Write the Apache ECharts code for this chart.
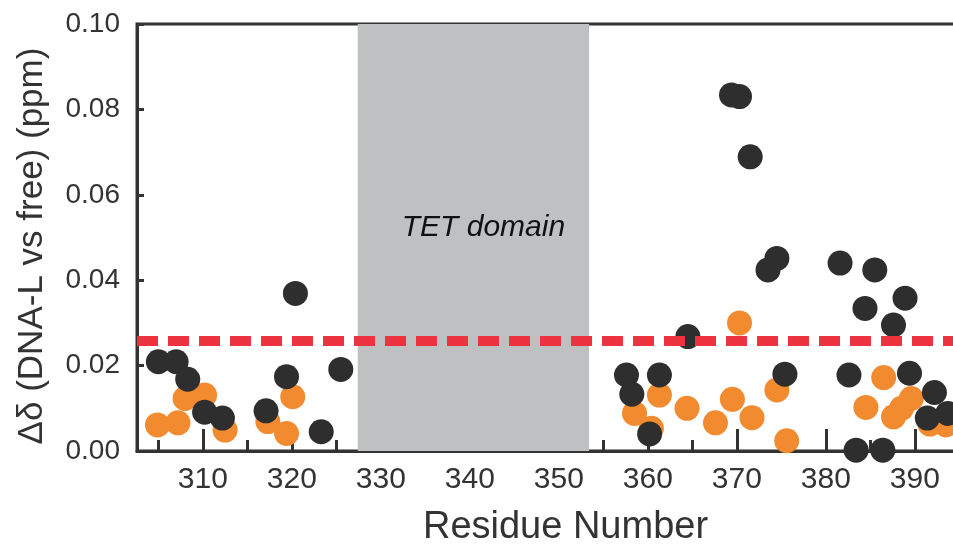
<!DOCTYPE html>
<html><head><meta charset="utf-8">
<script src="https://cdn.jsdelivr.net/npm/echarts@6/dist/echarts.min.js"></script>
<style>html,body{margin:0;padding:0;background:#fff}#c{width:953px;height:548px}</style>
</head><body><div id="c"></div>
<script>
// Data
const blackResidue = [305, 307, 308.3, 310.2, 312.2, 317.1, 319.4, 320.4, 323.3, 325.5,
  357.6, 358.2, 360.2, 361.3, 364.5, 369.4, 370.3, 371.5, 373.5, 374.5, 375.4,
  381.6, 382.6, 383.4, 384.4, 385.5, 386.4, 387.6, 388.9, 389.4, 391.4, 392.2, 393.7];
const blackShift = [0.0209, 0.0209, 0.0168, 0.0091, 0.0077, 0.0094, 0.0174, 0.0369, 0.0045, 0.0191,
  0.0178, 0.0133, 0.0040, 0.0178, 0.0268, 0.0834, 0.0830, 0.0689, 0.0424, 0.0451, 0.0180,
  0.0440, 0.0178, 0.0002, 0.0334, 0.0424, 0.0002, 0.0295, 0.0358, 0.0182, 0.0077, 0.0137, 0.0088];
const orangeResidue = [304.9, 307.2, 308, 310.2, 312.5, 317.3, 319.4, 320.1,
  358.5, 360.4, 361.3, 364.4, 367.6, 369.5, 370.3, 371.7, 374.5, 375.6,
  384.5, 386.5, 387.6, 388.5, 389.6, 391.7, 393.5];
const orangeShift = [0.0061, 0.0066, 0.0123, 0.0131, 0.0049, 0.0069, 0.0041, 0.0127,
  0.0088, 0.0053, 0.0131, 0.0100, 0.0066, 0.0121, 0.0300, 0.0078, 0.0143, 0.0024,
  0.0102, 0.0172, 0.0080, 0.0100, 0.0123, 0.0063, 0.0061];
const threshold = 0.0258;
const tetDomain = [327.4, 353.4];
const xMajorTicks = [310, 320, 330, 340, 350, 360, 370, 380, 390];
const xMinorTicks = [305, 315, 325, 335, 345, 355, 365, 375, 385];

const FONT = "'Liberation Sans', Arial, sans-serif";
const AX = '#333333';
const xMin = 302.6, xMax = 394.85;
const gridPos = {left: 137, top: 24, right: -5, bottom: 97, containLabel: false, outerBoundsMode: 'none'};

const chart = echarts.init(document.getElementById('c'));
chart.setOption({
  animation: false,
  backgroundColor: '#fff',
  grid: [
    Object.assign({show: true, borderColor: AX, borderWidth: 3, backgroundColor: 'transparent'}, gridPos),
    Object.assign({}, gridPos)
  ],
  xAxis: [
    {
      type: 'value', gridIndex: 0, min: xMin, max: xMax,
      name: 'Residue Number', nameLocation: 'middle', nameGap: 58,
      nameTextStyle: {fontFamily: FONT, fontSize: 38, color: AX, padding: [0, 0, 0, 36]},
      axisLine: {show: true, lineStyle: {color: AX, width: 3}},
      axisTick: {show: true, inside: true, length: 22, lineStyle: {color: AX, width: 3}, customValues: xMajorTicks},
      axisLabel: {show: true, margin: 14, fontFamily: FONT, fontSize: 30, color: AX, customValues: xMajorTicks,
        formatter: v => String(Math.round(v))},
      splitLine: {show: false}
    },
    {
      type: 'value', gridIndex: 1, min: xMin, max: xMax,
      axisLine: {show: false},
      axisTick: {show: true, inside: true, length: 11, lineStyle: {color: AX, width: 3}, customValues: xMinorTicks},
      axisLabel: {show: false},
      splitLine: {show: false}
    }
  ],
  yAxis: [
    {
      type: 'value', gridIndex: 0, min: 0, max: 0.1, interval: 0.02,
      name: 'Δδ (DNA-L vs free) (ppm)', nameLocation: 'middle', nameGap: 87,
      nameTextStyle: {fontFamily: FONT, fontSize: 35, color: AX, padding: [0, 17, 0, 0]},
      axisLine: {show: true, lineStyle: {color: AX, width: 3}},
      axisTick: {show: true, inside: true, length: 7, lineStyle: {color: AX, width: 3}},
      axisLabel: {margin: 17, fontFamily: FONT, fontSize: 28, color: AX, formatter: v => v.toFixed(2)},
      splitLine: {show: false}
    },
    {
      type: 'value', gridIndex: 1, min: 0, max: 0.1, show: false
    }
  ],
  series: [
    {
      type: 'scatter', xAxisIndex: 0, yAxisIndex: 0, data: [], z: 1,
      markArea: {
        silent: true,
        itemStyle: {color: '#bfc0c2'},
        label: {show: true, position: 'inside', formatter: 'TET domain', fontFamily: FONT, fontStyle: 'italic',
          fontSize: 30, color: '#111', offset: [10, -10]},
        data: [[{xAxis: tetDomain[0], yAxis: 0}, {xAxis: tetDomain[1], yAxis: 0.1}]]
      }
    },
    {
      name: 'orange', type: 'scatter', xAxisIndex: 0, yAxisIndex: 0, z: 2,
      symbolSize: 25,
      itemStyle: {color: '#f28a30', opacity: 1},
      data: orangeResidue.map((r, i) => [r, orangeShift[i]])
    },
    {
      name: 'black', type: 'scatter', xAxisIndex: 0, yAxisIndex: 0, z: 3,
      symbolSize: 25,
      itemStyle: {color: '#2f2e2f', opacity: 1},
      data: blackResidue.map((r, i) => [r, blackShift[i]])
    },
    {
      type: 'scatter', xAxisIndex: 0, yAxisIndex: 0, data: [], z: 4,
      markLine: {
        silent: true, symbol: ['none', 'none'], precision: 4,
        label: {show: false},
        lineStyle: {color: '#ee3340', width: 10, type: [21, 10], opacity: 1},
        data: [{yAxis: threshold}]
      }
    }
  ]
});
</script>
</body></html>
